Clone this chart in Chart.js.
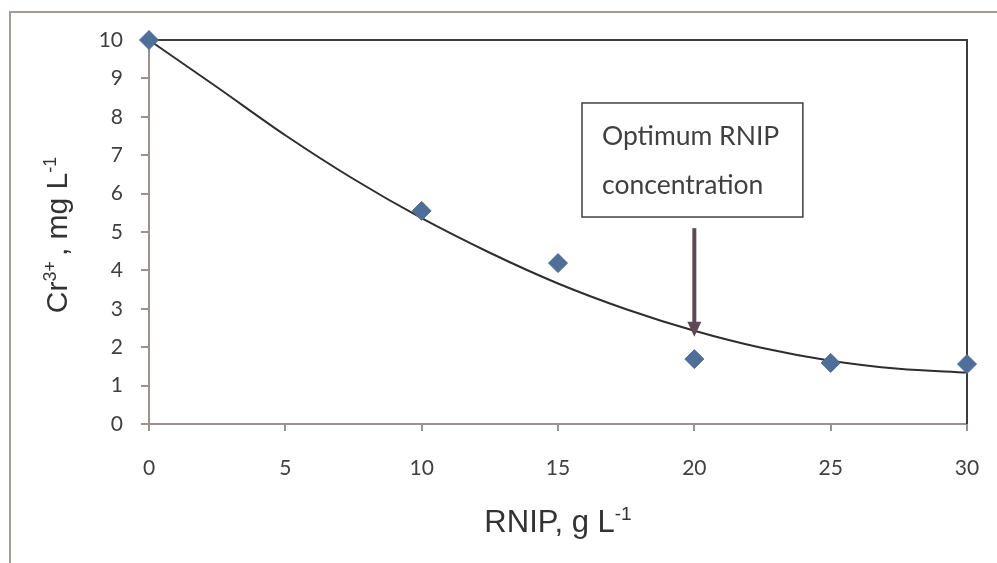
<!DOCTYPE html>
<html>
<head>
<meta charset="utf-8">
<script src="https://cdn.jsdelivr.net/npm/chart.js@4"></script>
<style>
  html, body { margin: 0; padding: 0; background: #fff; }
  #wrap { width: 997px; height: 563px; position: relative; }
</style>
</head>
<body>
<div id="wrap"><canvas id="chart" width="997" height="563"></canvas></div>
<script>
// measured points
const rnip = [0, 10, 15, 20, 25, 30];
const cr3 = [10, 5.55, 4.19, 1.69, 1.59, 1.56];

// polynomial trendline
const trendX = [0, 2.5, 5, 7.5, 10, 12.5, 15, 17.5, 20, 22.5, 25, 27.5, 30];
const trendY = [10.0, 8.77, 7.52, 6.38, 5.36, 4.46, 3.66, 2.99, 2.43, 1.98, 1.65, 1.44, 1.34];

const noteLines = ['Optimum RNIP', 'concentration'];
const arrowAt = 20;

const textColor = '#404040';
const axisColor = '#9c9090';

const ctx = document.getElementById('chart');

// draw a title made of normal and superscript pieces
function drawRich(c, parts, x, y, size) {
  const supSize = Math.round(size * 0.6);
  let total = 0;
  parts.forEach(p => {
    c.font = (p.sup ? supSize : size) + 'px "Liberation Sans", Arial, sans-serif';
    total += c.measureText(p.t).width;
  });
  let cx = x - total / 2;
  parts.forEach(p => {
    c.font = (p.sup ? supSize : size) + 'px "Liberation Sans", Arial, sans-serif';
    c.fillText(p.t, cx, p.sup ? y - size * 0.38 : y);
    cx += c.measureText(p.t).width;
  });
}

const decor = {
  id: 'decor',
  beforeDraw(chart) {
    const c = chart.ctx;
    c.save();
    c.fillStyle = '#fff';
    c.fillRect(0, 0, chart.width, chart.height);
    // outer frame, right and bottom edges fall outside the picture
    c.strokeStyle = '#a49a98';
    c.lineWidth = 2;
    c.strokeRect(10, 12, 1100, 700);
    c.restore();
  },
  beforeDatasetsDraw(chart) {
    const c = chart.ctx;
    const a = chart.chartArea;
    c.save();
    c.strokeStyle = '#3c3c3c';
    c.lineWidth = 2;
    c.beginPath();
    c.moveTo(a.left, a.top);
    c.lineTo(a.right, a.top);
    c.lineTo(a.right, a.bottom);
    c.stroke();
    c.restore();
  },
  afterDatasetsDraw(chart) {
    const c = chart.ctx;
    const xs = chart.scales.x, ys = chart.scales.y;
    c.save();
    // note box
    const bx = xs.getPixelForValue(15.88), bx2 = xs.getPixelForValue(23.98);
    const by = ys.getPixelForValue(8.36), by2 = ys.getPixelForValue(5.39);
    c.strokeStyle = '#404040';
    c.lineWidth = 1.5;
    c.strokeRect(bx, by, bx2 - bx, by2 - by);
    c.fillStyle = textColor;
    c.font = '26.5px Lato, "Open Sans", sans-serif';
    c.textBaseline = 'alphabetic';
    c.textAlign = 'left';
    c.fillText(noteLines[0], bx + 20, by + 42);
    c.fillText(noteLines[1], bx + 20, by + 91);
    // arrow
    const ax = xs.getPixelForValue(arrowAt);
    const top = ys.getPixelForValue(5.1), tip = ys.getPixelForValue(2.27);
    c.strokeStyle = '#5d4853';
    c.fillStyle = '#5d4853';
    c.lineWidth = 4;
    c.beginPath();
    c.moveTo(ax, top);
    c.lineTo(ax, tip - 12);
    c.stroke();
    c.beginPath();
    c.moveTo(ax - 7, tip - 15);
    c.lineTo(ax + 7, tip - 15);
    c.lineTo(ax, tip);
    c.closePath();
    c.fill();
    // axis titles
    c.fillStyle = '#333';
    c.textAlign = 'left';
    drawRich(c, [{t: 'RNIP, g L'}, {t: '-1', sup: true}], 558, 532, 31);
    c.translate(67, 235);
    c.rotate(-Math.PI / 2);
    drawRich(c, [{t: 'Cr'}, {t: '3+ ', sup: true}, {t: ', mg L'}, {t: '-1', sup: true}], 0, 0, 30);
    c.restore();
  }
};

new Chart(ctx, {
  type: 'scatter',
  data: {
    datasets: [
      {
        label: 'trend',
        data: trendX.map((x, i) => ({ x: x, y: trendY[i] })),
        showLine: true,
        borderColor: '#2e2e2e',
        borderWidth: 2,
        pointRadius: 0,
        cubicInterpolationMode: 'monotone',
        clip: false,
        order: 2
      },
      {
        label: 'Cr3+',
        data: rnip.map((x, i) => ({ x: x, y: cr3[i] })),
        pointStyle: 'rectRot',
        pointRadius: 9.5,
        backgroundColor: '#4f6f98',
        borderColor: '#4f6f98',
        borderWidth: 1,
        clip: false,
        order: 1
      }
    ]
  },
  options: {
    responsive: false,
    animation: false,
    layout: { padding: { left: 0, top: 40, right: 30, bottom: 0 } },
    plugins: { legend: { display: false }, tooltip: { enabled: false } },
    scales: {
      x: {
        type: 'linear', min: 0, max: 30,
        afterFit(s) { s.height = 139; s.paddingLeft = 0; s.paddingRight = 0; },
        ticks: { stepSize: 5, color: textColor, padding: 25, font: { family: 'Lato', size: 21 } },
        grid: { drawOnChartArea: false, drawTicks: true, tickLength: 7, tickColor: axisColor, lineWidth: 2 },
        border: { color: axisColor, width: 2 }
      },
      y: {
        min: 0, max: 10,
        afterFit(s) { s.width = 149; s.paddingTop = 0; s.paddingBottom = 0; },
        ticks: { stepSize: 1, color: textColor, padding: 18, font: { family: 'Lato', size: 21 } },
        grid: { drawOnChartArea: false, drawTicks: true, tickLength: 8, tickColor: axisColor, lineWidth: 2 },
        border: { color: axisColor, width: 2 }
      }
    }
  },
  plugins: [decor]
});
</script>
</body>
</html>
